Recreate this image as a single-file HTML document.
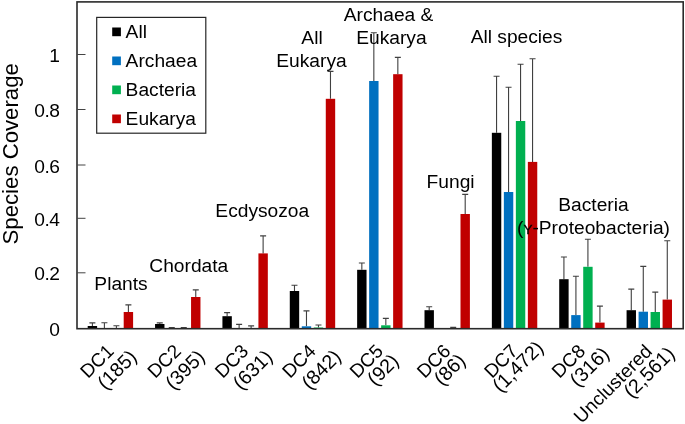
<!DOCTYPE html>
<html><head><meta charset="utf-8"><title>Species Coverage</title>
<style>html,body{margin:0;padding:0;background:#fff;}svg{display:block;will-change:transform;filter:blur(0.3px);}text{font-family:"Liberation Sans",sans-serif;fill:#000;}</style>
</head><body>
<svg width="685" height="424" viewBox="0 0 685 424">
<rect x="0" y="0" width="685" height="424" fill="#fff"/>
<g id="bars">
<path d="M92.40 326.00V322.90M89.40 322.90H95.40" stroke="#404040" stroke-width="1.1" fill="none"/>
<rect x="87.70" y="326.00" width="9.4" height="2.70" fill="#000000"/>
<path d="M104.40 328.20V322.70M101.40 322.70H107.40" stroke="#404040" stroke-width="1.1" fill="none"/>
<path d="M116.40 328.20V325.80M113.40 325.80H119.40" stroke="#404040" stroke-width="1.1" fill="none"/>
<path d="M128.40 312.00V304.90M125.40 304.90H131.40" stroke="#404040" stroke-width="1.1" fill="none"/>
<rect x="123.70" y="312.00" width="9.4" height="16.70" fill="#C00000"/>
<path d="M159.76 324.00V322.90M156.76 322.90H162.76" stroke="#404040" stroke-width="1.1" fill="none"/>
<rect x="155.06" y="324.00" width="9.4" height="4.70" fill="#000000"/>
<path d="M171.76 328.20V327.60M168.76 327.60H174.76" stroke="#404040" stroke-width="1.1" fill="none"/>
<path d="M183.76 328.20V327.60M180.76 327.60H186.76" stroke="#404040" stroke-width="1.1" fill="none"/>
<path d="M195.76 297.00V289.90M192.76 289.90H198.76" stroke="#404040" stroke-width="1.1" fill="none"/>
<rect x="191.06" y="297.00" width="9.4" height="31.70" fill="#C00000"/>
<path d="M227.12 316.20V312.60M224.12 312.60H230.12" stroke="#404040" stroke-width="1.1" fill="none"/>
<rect x="222.42" y="316.20" width="9.4" height="12.50" fill="#000000"/>
<path d="M239.12 328.20V324.40M236.12 324.40H242.12" stroke="#404040" stroke-width="1.1" fill="none"/>
<path d="M251.12 328.20V325.90M248.12 325.90H254.12" stroke="#404040" stroke-width="1.1" fill="none"/>
<path d="M263.12 253.40V235.90M260.12 235.90H266.12" stroke="#404040" stroke-width="1.1" fill="none"/>
<rect x="258.42" y="253.40" width="9.4" height="75.30" fill="#C00000"/>
<path d="M294.48 291.00V285.20M291.48 285.20H297.48" stroke="#404040" stroke-width="1.1" fill="none"/>
<rect x="289.78" y="291.00" width="9.4" height="37.70" fill="#000000"/>
<path d="M306.48 326.30V310.90M303.48 310.90H309.48" stroke="#404040" stroke-width="1.1" fill="none"/>
<rect x="301.78" y="326.30" width="9.4" height="2.40" fill="#0070C0"/>
<path d="M318.48 327.50V325.00M315.48 325.00H321.48" stroke="#404040" stroke-width="1.1" fill="none"/>
<rect x="313.78" y="327.50" width="9.4" height="1.20" fill="#00B050"/>
<path d="M330.48 98.80V71.40M327.48 71.40H333.48" stroke="#404040" stroke-width="1.1" fill="none"/>
<rect x="325.78" y="98.80" width="9.4" height="229.90" fill="#C00000"/>
<path d="M361.84 269.80V263.00M358.84 263.00H364.84" stroke="#404040" stroke-width="1.1" fill="none"/>
<rect x="357.14" y="269.80" width="9.4" height="58.90" fill="#000000"/>
<path d="M373.84 81.00V32.70M370.84 32.70H376.84" stroke="#404040" stroke-width="1.1" fill="none"/>
<rect x="369.14" y="81.00" width="9.4" height="247.70" fill="#0070C0"/>
<path d="M385.84 325.30V318.40M382.84 318.40H388.84" stroke="#404040" stroke-width="1.1" fill="none"/>
<rect x="381.14" y="325.30" width="9.4" height="3.40" fill="#00B050"/>
<path d="M397.84 74.20V57.40M394.84 57.40H400.84" stroke="#404040" stroke-width="1.1" fill="none"/>
<rect x="393.14" y="74.20" width="9.4" height="254.50" fill="#C00000"/>
<path d="M429.20 310.20V306.80M426.20 306.80H432.20" stroke="#404040" stroke-width="1.1" fill="none"/>
<rect x="424.50" y="310.20" width="9.4" height="18.50" fill="#000000"/>
<path d="M453.20 328.20V327.40M450.20 327.40H456.20" stroke="#404040" stroke-width="1.1" fill="none"/>
<path d="M465.20 214.00V194.40M462.20 194.40H468.20" stroke="#404040" stroke-width="1.1" fill="none"/>
<rect x="460.50" y="214.00" width="9.4" height="114.70" fill="#C00000"/>
<path d="M496.56 132.80V76.20M493.56 76.20H499.56" stroke="#404040" stroke-width="1.1" fill="none"/>
<rect x="491.86" y="132.80" width="9.4" height="195.90" fill="#000000"/>
<path d="M508.56 192.00V87.20M505.56 87.20H511.56" stroke="#404040" stroke-width="1.1" fill="none"/>
<rect x="503.86" y="192.00" width="9.4" height="136.70" fill="#0070C0"/>
<path d="M520.56 121.00V64.20M517.56 64.20H523.56" stroke="#404040" stroke-width="1.1" fill="none"/>
<rect x="515.86" y="121.00" width="9.4" height="207.70" fill="#00B050"/>
<path d="M532.56 161.90V58.80M529.56 58.80H535.56" stroke="#404040" stroke-width="1.1" fill="none"/>
<rect x="527.86" y="161.90" width="9.4" height="166.80" fill="#C00000"/>
<path d="M563.92 279.20V257.00M560.92 257.00H566.92" stroke="#404040" stroke-width="1.1" fill="none"/>
<rect x="559.22" y="279.20" width="9.4" height="49.50" fill="#000000"/>
<path d="M575.92 315.10V276.20M572.92 276.20H578.92" stroke="#404040" stroke-width="1.1" fill="none"/>
<rect x="571.22" y="315.10" width="9.4" height="13.60" fill="#0070C0"/>
<path d="M587.92 266.80V239.30M584.92 239.30H590.92" stroke="#404040" stroke-width="1.1" fill="none"/>
<rect x="583.22" y="266.80" width="9.4" height="61.90" fill="#00B050"/>
<path d="M599.92 322.60V306.10M596.92 306.10H602.92" stroke="#404040" stroke-width="1.1" fill="none"/>
<rect x="595.22" y="322.60" width="9.4" height="6.10" fill="#C00000"/>
<path d="M631.28 310.20V289.10M628.28 289.10H634.28" stroke="#404040" stroke-width="1.1" fill="none"/>
<rect x="626.58" y="310.20" width="9.4" height="18.50" fill="#000000"/>
<path d="M643.28 311.70V266.40M640.28 266.40H646.28" stroke="#404040" stroke-width="1.1" fill="none"/>
<rect x="638.58" y="311.70" width="9.4" height="17.00" fill="#0070C0"/>
<path d="M655.28 312.00V292.10M652.28 292.10H658.28" stroke="#404040" stroke-width="1.1" fill="none"/>
<rect x="650.58" y="312.00" width="9.4" height="16.70" fill="#00B050"/>
<path d="M667.28 299.60V240.80M664.28 240.80H670.28" stroke="#404040" stroke-width="1.1" fill="none"/>
<rect x="662.58" y="299.60" width="9.4" height="29.10" fill="#C00000"/>
</g>
<rect x="77.0" y="1.9" width="606.2" height="326.8" fill="none" stroke="#2a2a2a" stroke-width="1.6"/>
<path d="M77.0 54.5H85.5" stroke="#444" stroke-width="1"/>
<text x="59.5" y="62.0" font-size="19.2" text-anchor="end" letter-spacing="-0.5">1</text>
<path d="M77.0 109.5H85.5" stroke="#444" stroke-width="1"/>
<text x="59.5" y="117.0" font-size="19.2" text-anchor="end" letter-spacing="-0.5">0.8</text>
<path d="M77.0 165H85.5" stroke="#444" stroke-width="1"/>
<text x="59.5" y="172.5" font-size="19.2" text-anchor="end" letter-spacing="-0.5">0.6</text>
<path d="M77.0 218.3H85.5" stroke="#444" stroke-width="1"/>
<text x="59.5" y="225.8" font-size="19.2" text-anchor="end" letter-spacing="-0.5">0.4</text>
<path d="M77.0 272.8H85.5" stroke="#444" stroke-width="1"/>
<text x="59.5" y="280.3" font-size="19.2" text-anchor="end" letter-spacing="-0.5">0.2</text>
<text x="59.5" y="336.1" font-size="19.2" text-anchor="end" letter-spacing="-0.5">0</text>
<text transform="translate(17.9,153.8) rotate(-90)" font-size="22.2" text-anchor="middle">Species Coverage</text>
<rect x="96.7" y="17.4" width="109.1" height="115.8" fill="#fff" stroke="#262626" stroke-width="1.2"/>
<rect x="112.2" y="27.5" width="8.7" height="8.7" fill="#000000"/>
<text x="125.6" y="37.8" font-size="19.2">All</text>
<rect x="112.2" y="56.5" width="8.7" height="8.7" fill="#0070C0"/>
<text x="125.6" y="66.8" font-size="19.2">Archaea</text>
<rect x="112.2" y="85.5" width="8.7" height="8.7" fill="#00B050"/>
<text x="125.6" y="95.8" font-size="19.2">Bacteria</text>
<rect x="112.2" y="114.5" width="8.7" height="8.7" fill="#C00000"/>
<text x="125.6" y="124.8" font-size="19.2">Eukarya</text>
<text x="121" y="290.4" font-size="19.2" text-anchor="middle">Plants</text>
<text x="188.8" y="272" font-size="19.2" text-anchor="middle">Chordata</text>
<text x="262.3" y="217.3" font-size="19.2" text-anchor="middle">Ecdysozoa</text>
<text x="312" y="44.2" font-size="19.2" text-anchor="middle">All</text>
<text x="311.5" y="66.5" font-size="19.2" text-anchor="middle">Eukarya</text>
<text x="388.6" y="21.1" font-size="19.2" text-anchor="middle">Archaea &amp;</text>
<text x="391.4" y="44.2" font-size="19.2" text-anchor="middle">Eukarya</text>
<text x="450.6" y="188" font-size="19.2" text-anchor="middle">Fungi</text>
<text x="516.5" y="42.6" font-size="19.2" text-anchor="middle">All species</text>
<text x="593.5" y="210.9" font-size="19.2" text-anchor="middle">Bacteria</text>
<text x="517" y="234" font-size="19.2">(<tspan font-size="13.5" stroke="#000" stroke-width="0.35">Y</tspan>-Proteobacteria)</text>
<text transform="translate(114.9,352.2) rotate(-45)" font-size="19" text-anchor="end">DC1</text>
<text transform="translate(137.9,358.2) rotate(-45)" font-size="19.7" text-anchor="end">(185)</text>
<text transform="translate(182.2,352.2) rotate(-45)" font-size="19" text-anchor="end">DC2</text>
<text transform="translate(205.9,358.2) rotate(-45)" font-size="19.7" text-anchor="end">(395)</text>
<text transform="translate(249.6,352.2) rotate(-45)" font-size="19" text-anchor="end">DC3</text>
<text transform="translate(273.6,358.2) rotate(-45)" font-size="19.7" text-anchor="end">(631)</text>
<text transform="translate(317.0,352.2) rotate(-45)" font-size="19" text-anchor="end">DC4</text>
<text transform="translate(342.2,357.9) rotate(-45)" font-size="19.7" text-anchor="end">(842)</text>
<text transform="translate(384.3,352.2) rotate(-45)" font-size="19" text-anchor="end">DC5</text>
<text transform="translate(400.0,362) rotate(-45)" font-size="19.7" text-anchor="end">(92)</text>
<text transform="translate(451.7,352.2) rotate(-45)" font-size="19" text-anchor="end">DC6</text>
<text transform="translate(466.7,361.8) rotate(-45)" font-size="19.7" text-anchor="end">(86)</text>
<text transform="translate(519.0,352.2) rotate(-45)" font-size="19" text-anchor="end">DC7</text>
<text transform="translate(544.7,349.2) rotate(-45)" font-size="19.7" text-anchor="end">(1,472)</text>
<text transform="translate(586.4,352.2) rotate(-45)" font-size="19" text-anchor="end">DC8</text>
<text transform="translate(610.3,355.2) rotate(-45)" font-size="19.7" text-anchor="end">(316)</text>
<text transform="translate(653.3,352.6) rotate(-45)" font-size="19" text-anchor="end">Unclustered</text>
<text transform="translate(675.8,354.9) rotate(-45)" font-size="19.7" text-anchor="end">(2,561)</text>
</svg>
</body></html>
